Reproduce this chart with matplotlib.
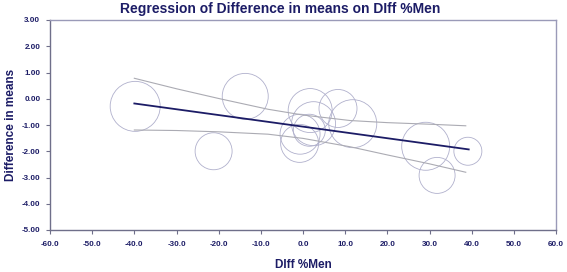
import matplotlib
matplotlib.use("Agg")
import matplotlib.pyplot as plt

# studies: Diff %Men vs difference in means, circle size = study weight
study_x = [-39.8, -13.7, -21.2, 1.7, 2.5, -0.7, -0.8, 1.5, 8.3, 11.8, 29.1, 31.8, 39.1]
study_y = [-0.29, 0.09, -2.00, -0.45, -0.95, -1.35, -1.70, -1.20, -0.37, -0.95, -1.81, -2.92, -2.00]
study_w = [25, 23, 18.5, 22, 22, 20, 19, 16, 19, 24, 24, 18, 14]

# fitted regression line
reg_x = [-40.0, 39.3]
reg_y = [-0.18, -1.93]

# confidence limits
ci_x = [-40.0, -30.0, -20.0, -8.3, 0.0, 11.2, 20.0, 30.0, 38.6]
ci_upper = [0.78, 0.38, 0.01, -0.40, -0.62, -0.83, -0.91, -0.97, -1.03]
ci_lower = [-1.19, -1.21, -1.26, -1.35, -1.51, -1.83, -2.14, -2.48, -2.80]

x_ticks = [-60, -50, -40, -30, -20, -10, 0, 10, 20, 30, 40, 50, 60]
y_ticks = [3, 2, 1, 0, -1, -2, -3, -4, -5]

navy = "#1c1c66"
plt.rcParams["font.family"] = ["Liberation Sans", "DejaVu Sans"]

fig = plt.figure(figsize=(5.67, 2.72), dpi=100)
ax = fig.add_axes([50 / 567, 1 - 230 / 272, 506 / 567, 210 / 272])

sizes = [(2 * w * 0.72) ** 2 for w in study_w]
ax.scatter(study_x, study_y, s=sizes, facecolors="none", edgecolors="#b0b0cc",
           linewidths=0.6, zorder=2)

ax.plot(ci_x, ci_upper, color="#ababb3", lw=0.8, zorder=3)
ax.plot(ci_x, ci_lower, color="#ababb3", lw=0.8, zorder=3)
ax.plot(reg_x, reg_y, color=navy, lw=1.3, zorder=4)

ax.set_xlim(-60, 60)
ax.set_ylim(-5, 3)
ax.set_xticks(x_ticks)
ax.set_xticklabels([f"{v:.1f}" for v in x_ticks])
ax.set_yticks(y_ticks)
ax.set_yticklabels([f"{v:.2f}" for v in y_ticks])
ax.tick_params(axis="both", labelsize=5.8, colors="#6f6f8a", labelcolor=navy,
               length=3, width=0.8)
ax.tick_params(axis="x", pad=5)
ax.tick_params(axis="y", pad=4)
for lab in ax.get_xticklabels() + ax.get_yticklabels():
    lab.set_fontweight("bold")

for side in ["left", "bottom"]:
    ax.spines[side].set_color("#6f6f8a")
    ax.spines[side].set_linewidth(1.0)
for side in ["top", "right"]:
    ax.spines[side].set_color("#9a9ab8")
    ax.spines[side].set_linewidth(1.0)

ax.set_xlabel("DIff %Men", fontsize=8.5, fontweight="bold", color=navy, labelpad=8)
ax.set_ylabel("Difference in means", fontsize=8.5, fontweight="bold", color=navy, labelpad=3)
fig.text(0.495, 0.968, "Regression of Difference in means on DIff %Men", ha="center",
         va="center", fontsize=10, fontweight="bold", color=navy)

plt.savefig("out.png", dpi=100)
